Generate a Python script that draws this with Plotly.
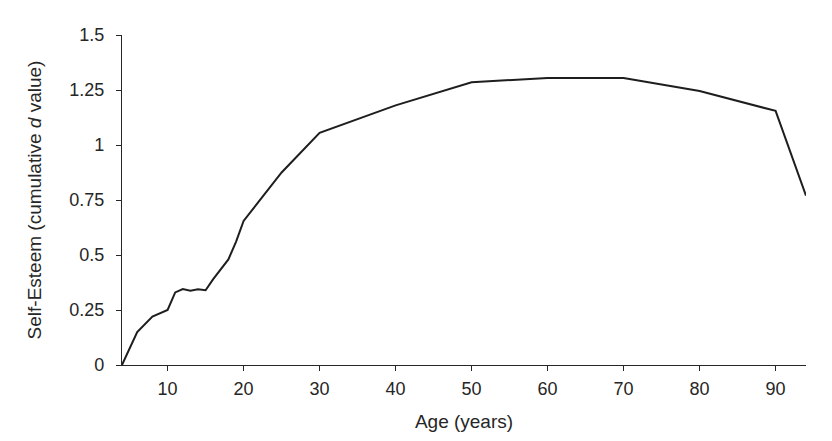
import plotly.graph_objects as go

# cumulative self-esteem change by age
ages = [4, 6, 8, 10, 11, 12, 13, 14, 15, 16, 18, 19, 20, 25, 30, 40, 50, 60, 70, 80, 90, 94]
d_values = [0, 0.15, 0.22, 0.25, 0.33, 0.345, 0.338, 0.344, 0.34, 0.39, 0.48, 0.56, 0.655,
            0.875, 1.055, 1.18, 1.285, 1.305, 1.305, 1.245, 1.155, 0.77]

x_ticks = [10, 20, 30, 40, 50, 60, 70, 80, 90]
y_ticks = [0, 0.25, 0.5, 0.75, 1, 1.25, 1.5]
y_labels = ["0", "0.25", "0.5", "0.75", "1", "1.25", "1.5"]

font = "Liberation Sans, Arial, sans-serif"
ink = "#262626"

fig = go.Figure(
    go.Scatter(
        x=ages,
        y=d_values,
        mode="lines",
        line=dict(color="#1e1e1e", width=2),
        hoverinfo="x+y",
    )
)

fig.update_layout(
    width=832,
    height=441,
    margin=dict(l=122, r=26, t=35, b=76),
    paper_bgcolor="white",
    plot_bgcolor="white",
    showlegend=False,
    font=dict(family=font, size=18, color=ink),
    xaxis=dict(
        range=[4, 94],
        tickvals=x_ticks,
        ticks="outside",
        ticklen=5,
        tickwidth=1.3,
        tickcolor=ink,
        tickfont=dict(size=18),
        ticklabelstandoff=2,
        showline=True,
        linecolor=ink,
        linewidth=1.4,
        showgrid=False,
        zeroline=False,
        title=dict(text="Age (years)", standoff=16, font=dict(size=19)),
    ),
    yaxis=dict(
        range=[0, 1.5],
        tickvals=y_ticks,
        ticktext=y_labels,
        ticks="outside",
        ticklen=5,
        tickwidth=1.3,
        tickcolor=ink,
        tickfont=dict(size=18),
        ticklabelstandoff=8,
        showline=True,
        linecolor=ink,
        linewidth=1.4,
        showgrid=False,
        zeroline=False,
        title=dict(text="Self-Esteem (cumulative <i>d</i> value)", standoff=22,
                   font=dict(size=19)),
    ),
)

# drop the page's default body margin so the figure sits at the window origin
fig.write_html(
    "out.html",
    config={"displayModeBar": False},
    post_script="document.body.style.margin='0';",
)
